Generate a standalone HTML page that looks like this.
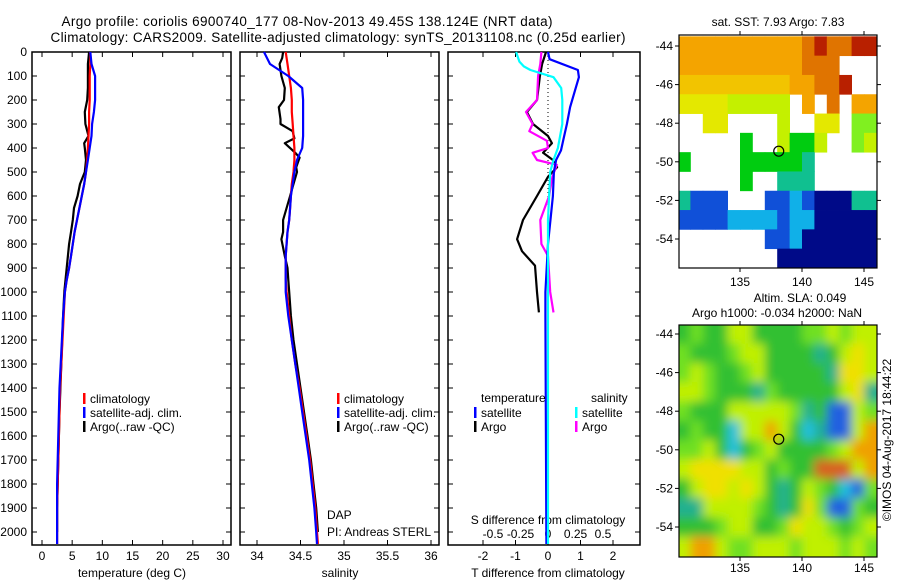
<!DOCTYPE html>
<html><head><meta charset="utf-8"><style>
body{margin:0;background:#fff;}
svg{display:block;font-family:"Liberation Sans",sans-serif;}
</style></head><body>
<svg id="c" width="900" height="580" viewBox="0 0 900 580">
<defs>
<filter id="blur" x="-10%" y="-10%" width="120%" height="120%"><feGaussianBlur stdDeviation="5"/></filter>
<clipPath id="slaclip"><rect x="679" y="325" width="198" height="232"/></clipPath>
</defs>
<text x="307" y="26" font-size="13.5" text-anchor="middle" textLength="491">Argo profile: coriolis 6900740_177 08-Nov-2013 49.45S 138.124E (NRT data)</text>
<text x="338" y="42" font-size="13.5" text-anchor="middle" textLength="575">Climatology: CARS2009. Satellite-adjusted climatology: synTS_20131108.nc (0.25d earlier)</text>
<text x="778" y="26" font-size="12" text-anchor="middle">sat. SST: 7.93 Argo: 7.83</text>
<text x="800" y="302" font-size="12" text-anchor="middle">Altim. SLA: 0.049</text>
<text x="777" y="317" font-size="12" text-anchor="middle">Argo h1000: -0.034 h2000: NaN</text>
<text transform="translate(891,440) rotate(-90)" font-size="12" text-anchor="middle">©IMOS 04-Aug-2017 18:44:22</text>
<g id="g"></g>
</svg>
<script>
// ---- profile data ----
const tDepth = [0,50,100,150,200,250,300,350,400,450,500,550,600,650,700,750,800,850,900,950,1000,1100,1200,1300,1400,1500,1600,1700,1800,1900,2000,2050];
const tClim = [8.0,8.0,7.9,7.9,7.9,7.8,7.8,7.7,7.6,7.5,7.3,7.0,6.6,6.2,5.8,5.4,5.1,4.8,4.5,4.1,3.8,3.6,3.4,3.2,3.0,2.9,2.8,2.7,2.6,2.5,2.5,2.5];
const tSat = [8.0,8.2,8.8,8.8,8.8,8.6,8.3,8.2,7.9,7.6,7.3,7.0,6.6,6.2,5.8,5.4,5.1,4.8,4.5,4.1,3.8,3.5,3.3,3.1,2.9,2.8,2.7,2.6,2.5,2.5,2.5,2.5];
const tArgoDepth = [0,50,100,150,200,250,300,350,380,400,450,500,550,600,650,700,750,800,850,900,950,1000,1100,1300,1500,1700,1900,2000];
const tArgo = [7.8,7.6,7.6,7.6,7.5,7.1,7.2,7.7,7.0,7.1,7.3,7.1,6.3,5.9,5.3,5.1,4.8,4.5,4.3,4.1,3.9,3.7,3.5,3.2,2.9,2.7,2.5,2.5];
const sClim = [34.33,34.35,34.37,34.39,34.40,34.40,34.41,34.42,34.43,34.43,34.42,34.40,34.39,34.38,34.37,34.35,34.34,34.33,34.33,34.33,34.34,34.37,34.40,34.44,34.49,34.53,34.57,34.61,34.64,34.67,34.69,34.70];
const sSat = [34.08,34.15,34.36,34.52,34.53,34.53,34.53,34.53,34.52,34.46,34.43,34.41,34.39,34.38,34.37,34.35,34.34,34.33,34.33,34.33,34.33,34.36,34.40,34.44,34.48,34.52,34.56,34.60,34.63,34.66,34.68,34.69];
const sArgoDepth = [0,25,50,100,150,200,230,280,300,330,360,380,420,440,480,500,550,600,650,700,750,780,850,900,950,1000,1100,1200,1300,1400,1500,1600,1700,1800,1900,2000];
const sArgo = [34.30,34.29,34.26,34.28,34.32,34.31,34.25,34.27,34.27,34.41,34.43,34.32,34.44,34.49,34.45,34.46,34.42,34.38,34.34,34.30,34.30,34.28,34.32,34.35,34.36,34.37,34.39,34.42,34.46,34.50,34.54,34.58,34.62,34.65,34.68,34.70];
const dTSatDepth = [0,30,75,105,160,230,300,355,410,450,500,600,800,1000,1100,2050];
const dTSat = [0,0.05,0.92,0.95,0.83,0.68,0.58,0.49,0.40,0.25,0.18,0.15,0,-0.08,-0.08,-0.05];
const dSSatDepth = [0,40,60,75,105,150,200,300,400,450,500,700,2050];
const dSSat = [-0.29,-0.26,-0.22,-0.16,0.05,0.12,0.13,0.13,0.09,0.05,0.02,0,0];
const dTArgoDepth = [0,50,100,200,250,300,350,380,420,450,480,520,600,700,780,830,890,1000,1085];
const dTArgo = [-0.06,-0.18,-0.25,-0.34,-0.65,-0.46,0,0.12,-0.15,0.15,0.28,0,-0.34,-0.77,-0.95,-0.8,-0.4,-0.34,-0.28];
const dSArgoDepth = [0,50,100,200,250,300,330,370,400,420,450,470,520,600,700,800,850,1000,1085];
const dSArgo = [-0.06,-0.07,-0.09,-0.10,-0.20,-0.14,-0.17,-0.01,0,-0.14,-0.10,0.08,0.04,0.01,-0.07,-0.06,0,0.02,0.05];
const depthTicks = [0,100,200,300,400,500,600,700,800,900,1000,1100,1200,1300,1400,1500,1600,1700,1800,1900,2000];
const tTicks = [0,5,10,15,20,25,30];
const sTicks = [34,34.5,35,35.5,36];
const dTTicks = [-2,-1,0,1,2];
const dSTickLabels = ["-0.5","-0.25","0","0.25","0.5"];
const dSTicks = [-0.5,-0.25,0,0.25,0.5];
// ---- map data (1 deg cells, rows from -43.5 southward, cols from 130E) ----
const sstRows = [
"OOOOOOOOOOrRrrRR",
"OOOOOOOOOOrrr...",
"oooooooooOOrrR..",
"yyyyYYYYY.O.r.OO",
"..yy....Y..yy.GG",
".....g..YggY..GY",
"g....gggggt.....",
".....g..ttt.....",
"tbbb...bbcbnnntt",
"bbbbccccbccnnnnn",
".......bbcnnnnnn",
"........nnnnnnnn"];
const slaRows = [
"gGggyyggggGGyGyy",
"GgggGyyggggtgyYy",
"GyGggGygggggtYYy",
"yyGgggtGgggggyYt",
"GgggyyyyyGtgbbyG",
"gGggcyyoygctbbyo",
"GGygcgGyggggGyoo",
"yYYYYyygGggOOOyo",
"gyYYyYygtgyGgcbG",
"ttyyyyGgtgYGbbGg",
"gggGyyggGYyyGgGy",
"yooyGGyyyGyyyGyG"];
const sstColors = {O:"#f4a400",o:"#f2c400",R:"#b82000",r:"#e07400",y:"#e4e800",Y:"#c4f000",G:"#80f020",g:"#00cc10",t:"#10c090",c:"#10b0e8",b:"#1050d8",n:"#000a88"};
const slaColors = {g:"#30c030",G:"#70e020",y:"#c0f000",Y:"#f0e000",o:"#f0a000",O:"#d86020",t:"#20b090",c:"#20c0e0",b:"#2060e0"};

const NS="http://www.w3.org/2000/svg";
const G=document.getElementById('g');
function mk(tag,attrs,parent){const e=document.createElementNS(NS,tag);for(const k in attrs)e.setAttribute(k,attrs[k]);(parent||G).appendChild(e);return e;}
function txt(x,y,s,size,anchor,parent){const e=mk('text',{x:x,y:y,'font-size':size,'text-anchor':anchor||'middle'},parent);e.textContent=s;return e;}

const Y0=52, PY=0.24, BOT=545;
const yD = d => Y0 + d*PY;
const xT = v => 42 + v*6.033;
const xS = v => 257 + (v-34)*87;
const xDT = v => 548 + v*32.5;
const xDS = v => 548 + v*110;

function panel(name,x0,x1){
  const r=mk('rect',{x:x0,y:Y0,width:x1-x0,height:BOT-Y0,fill:'none',stroke:'#000','stroke-width':1.5});
  
  
  depthTicks.forEach(d=>{
    mk('line',{x1:x0,x2:x0+5,y1:yD(d),y2:yD(d),stroke:'#000'});
    mk('line',{x1:x1,x2:x1-5,y1:yD(d),y2:yD(d),stroke:'#000'});
  });
}
function series(name,xs,ds,fx,color,dash){
  const pts=xs.map((v,i)=>fx(v).toFixed(1)+','+yD(ds[i]).toFixed(1)).join(' ');
  const p=mk('polyline',{points:pts,fill:'none',stroke:color,'stroke-width':2.2,'stroke-linejoin':'round'});
  if(dash)p.setAttribute('stroke-dasharray',dash);
  
  
}
depthTicks.forEach(d=>{const t=txt(27,yD(d)+4,String(d),12,'end');
  
  });

// panel 1
panel('temperature-panel',32,231);
tTicks.forEach(v=>{mk('line',{x1:xT(v),x2:xT(v),y1:BOT,y2:BOT-5,stroke:'#000'});mk('line',{x1:xT(v),x2:xT(v),y1:Y0,y2:Y0+5,stroke:'#000'});
  const t=txt(xT(v),560,String(v),12);
  
  });
const tl=txt(132,577,'temperature (deg C)',12);


series('temp-argo-line',tArgo,tArgoDepth,xT,'#000');
series('temp-climatology-line',tClim,tDepth,xT,'#f00');
series('temp-satellite-line',tSat,tDepth,xT,'#00f');

// panel 2
panel('salinity-panel',240,439);
sTicks.forEach(v=>{mk('line',{x1:xS(v),x2:xS(v),y1:BOT,y2:BOT-5,stroke:'#000'});mk('line',{x1:xS(v),x2:xS(v),y1:Y0,y2:Y0+5,stroke:'#000'});
  const t=txt(xS(v),560,String(v),12);
  
  });
const sl=txt(340,577,'salinity',12);


series('sal-argo-line',sArgo,sArgoDepth,xS,'#000');
series('sal-climatology-line',sClim,tDepth,xS,'#f00');
series('sal-satellite-line',sSat,tDepth,xS,'#00f');
txt(327,519,'DAP',12,'start');
txt(327,536,'PI: Andreas STERL',12,'start');

// panel 3
panel('difference-panel',448,640);
mk('line',{x1:548,x2:548,y1:Y0,y2:BOT,stroke:'#000','stroke-dasharray':'1,3'});
dTTicks.forEach(v=>{mk('line',{x1:xDT(v),x2:xDT(v),y1:BOT,y2:BOT-5,stroke:'#000'});mk('line',{x1:xDT(v),x2:xDT(v),y1:Y0,y2:Y0+5,stroke:'#000'});
  const t=txt(xDT(v),560,String(v),12);
  
  });
dSTicks.forEach((v,i)=>{const t=txt(xDS(v),538,dSTickLabels[i],12);
  
  });
txt(548,524,'S difference from climatology',12);
const dl=txt(548,577,'T difference from climatology',12);


series('dt-argo-line',dTArgo,dTArgoDepth,xDT,'#000');
series('ds-argo-line',dSArgo,dSArgoDepth,xDS,'#f0f');
series('dt-satellite-line',dTSat,dTSatDepth,xDT,'#00f');
series('ds-satellite-line',dSSat,dSSatDepth,xDS,'#0ff');

// legends
function leg(x,y,color,label,name){
  const b=mk('rect',{x:x,y:y-10,width:2.5,height:11,fill:color});
  
  
  const t=txt(x+7,y,label,12,'start');
  
  
}
leg(83,403,'#f00','climatology','legend-climatology');
leg(83,417,'#00f','satellite-adj. clim.','legend-satellite');
leg(83,431,'#000','Argo(..raw -QC)','legend-argo');
leg(337,403,'#f00','climatology','legend2-climatology');
leg(337,417,'#00f','satellite-adj. clim.','legend2-satellite');
leg(337,431,'#000','Argo(..raw -QC)','legend2-argo');
txt(481,402,'temperature',12,'start');
txt(591,402,'salinity',12,'start');
leg(474,417,'#00f','satellite','legend3-t-satellite');
leg(474,431,'#000','Argo','legend3-t-argo');
leg(575,417,'#0ff','satellite','legend3-s-satellite');
leg(575,431,'#f0f','Argo','legend3-s-argo');

// maps
const MX0=679, MX1=877, LONPX=12.4;
const xLon = l => 740 + (l-135)*LONPX;
function map(name,rows,colors,top,latRef,bottom,labY,smooth){
  const latPx=19.3;
  const yLat = l => latRef + (-44 - l)*latPx;
  let cg=mk('g',{});
  
  
  if(smooth){cg.setAttribute('clip-path','url(#slaclip)');cg=mk('g',{filter:'url(#blur)'},cg);}
  rows.forEach((row,k)=>{
    for(let i=0;i<row.length;i++){
      const ch=row[i]; if(ch==='.')continue;
      let y1=yLat(-43.5-k), y2=yLat(-44.5-k), x1=xLon(130+i), x2=xLon(131+i);
      if(smooth){ if(k===0)y1-=15; if(k===rows.length-1)y2+=15; if(i===0)x1-=15; if(i===row.length-1)x2+=15; }
      else { y1=Math.max(top,y1); y2=Math.min(bottom,y2); x1=Math.max(MX0,x1); x2=Math.min(MX1,x2); }
      mk('rect',{x:x1,y:y1,width:x2-x1+0.4,height:y2-y1+0.4,fill:colors[ch]},cg);
    }
  });
  const f=mk('rect',{x:MX0,y:top,width:MX1-MX0,height:bottom-top,fill:'none',stroke:'#000','stroke-width':1.2});
  
  
  [-44,-46,-48,-50,-52,-54].forEach(l=>{
    mk('line',{x1:MX0-4,x2:MX0,y1:yLat(l),y2:yLat(l),stroke:'#000'});
    mk('line',{x1:MX1,x2:MX1+4,y1:yLat(l),y2:yLat(l),stroke:'#000'});
    txt(673,yLat(l)+4,String(l),12,'end');
  });
  [135,140,145].forEach(l=>{
    mk('line',{x1:xLon(l),x2:xLon(l),y1:bottom,y2:bottom+4,stroke:'#000'});
    mk('line',{x1:xLon(l),x2:xLon(l),y1:top-4,y2:top,stroke:'#000'});
    txt(xLon(l),labY,String(l),12);
  });
  const c=mk('circle',{cx:xLon(138.124),cy:yLat(-49.45),r:5,fill:'none',stroke:'#000','stroke-width':1.2});
  
  
}
map('sst-map',sstRows,sstColors,35,46,268,286,false);
map('sla-map',slaRows,slaColors,325,334,557,572,true);
</script>
</body></html>
